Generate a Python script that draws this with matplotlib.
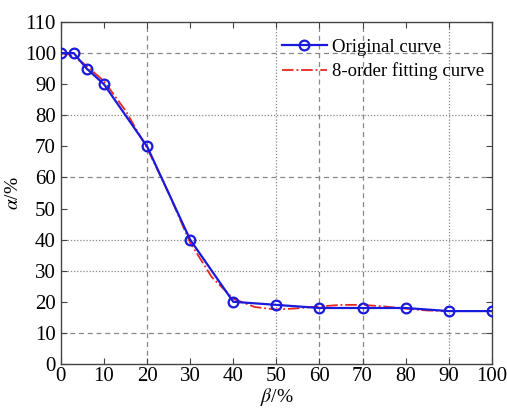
import matplotlib
matplotlib.use("Agg")
import matplotlib.pyplot as plt

beta_orig = [0, 3, 6, 10, 20, 30, 40, 50, 60, 70, 80, 90, 100]
alpha_orig = [100, 100, 95, 90, 70, 40, 20, 19, 18, 18, 18, 17, 17]

beta_fit = [0, 2, 5, 10, 15, 20, 25, 30, 35, 40, 45, 50, 55, 60, 65, 70, 75, 80, 85, 90, 95, 100]
alpha_fit = [100, 99.5, 97, 91, 81.5, 69.5, 55, 39, 28, 21, 18.3, 17.5, 17.9, 18.5, 19, 19, 18.5, 17.8, 17.2, 17, 17, 17]

xticks = list(range(0, 101, 10))
yticks = list(range(0, 111, 10))
hgrid_dashed = [100, 60, 10]
hgrid_dotted = [80, 40, 30]
vgrid_dashed = [20, 60, 70]
vgrid_dotted = [50, 90]

plt.rcParams['font.family'] = ['Liberation Serif', 'DejaVu Serif']
plt.rcParams['mathtext.fontset'] = 'stix'

fig = plt.figure(figsize=(5.07, 4.08), dpi=100)
ax = fig.add_axes([0.120, 0.108, 0.850, 0.838])

for y in hgrid_dashed:
    ax.axhline(y, color='#888888', lw=0.9, ls=(0, (4, 3)), zorder=0)
for y in hgrid_dotted:
    ax.axhline(y, color='#888888', lw=0.9, ls=(0, (1, 1.5)), zorder=0)
for x in vgrid_dashed:
    ax.axvline(x, color='#888888', lw=0.9, ls=(0, (4, 3)), zorder=0)
for x in vgrid_dotted:
    ax.axvline(x, color='#888888', lw=0.9, ls=(0, (1, 1.5)), zorder=0)

ax.plot(beta_orig, alpha_orig, color='#1a1adc', lw=1.6, marker='o', ms=7,
        mfc='none', mec='#1a1adc', mew=1.6, label='Original curve', zorder=3)
ax.plot(beta_fit, alpha_fit, color='#e8261e', lw=1.3, ls='-.', label='8-order fitting curve', zorder=2)

ax.set_xlim(0, 100)
ax.set_ylim(0, 110)
ax.set_xticks(xticks)
ax.set_yticks(yticks)
ax.tick_params(direction='in', top=True, right=True, labelsize=15, length=4, color='#444444')
ax.tick_params(axis='x', pad=2)
for s in ax.spines.values():
    s.set_color('#444444')
    s.set_linewidth(1.0)

ax.set_xlabel(r'$\beta$/%', fontsize=14, labelpad=0)
ax.set_ylabel(r'$\alpha$/%', fontsize=14, labelpad=2)

ax.legend(loc='upper right', frameon=False, fontsize=13.5, handlelength=2.4,
          borderaxespad=0.5, labelspacing=0.35, handletextpad=0.3,
          bbox_to_anchor=(1.022, 1.0))

fig.savefig('out.png', dpi=100)
